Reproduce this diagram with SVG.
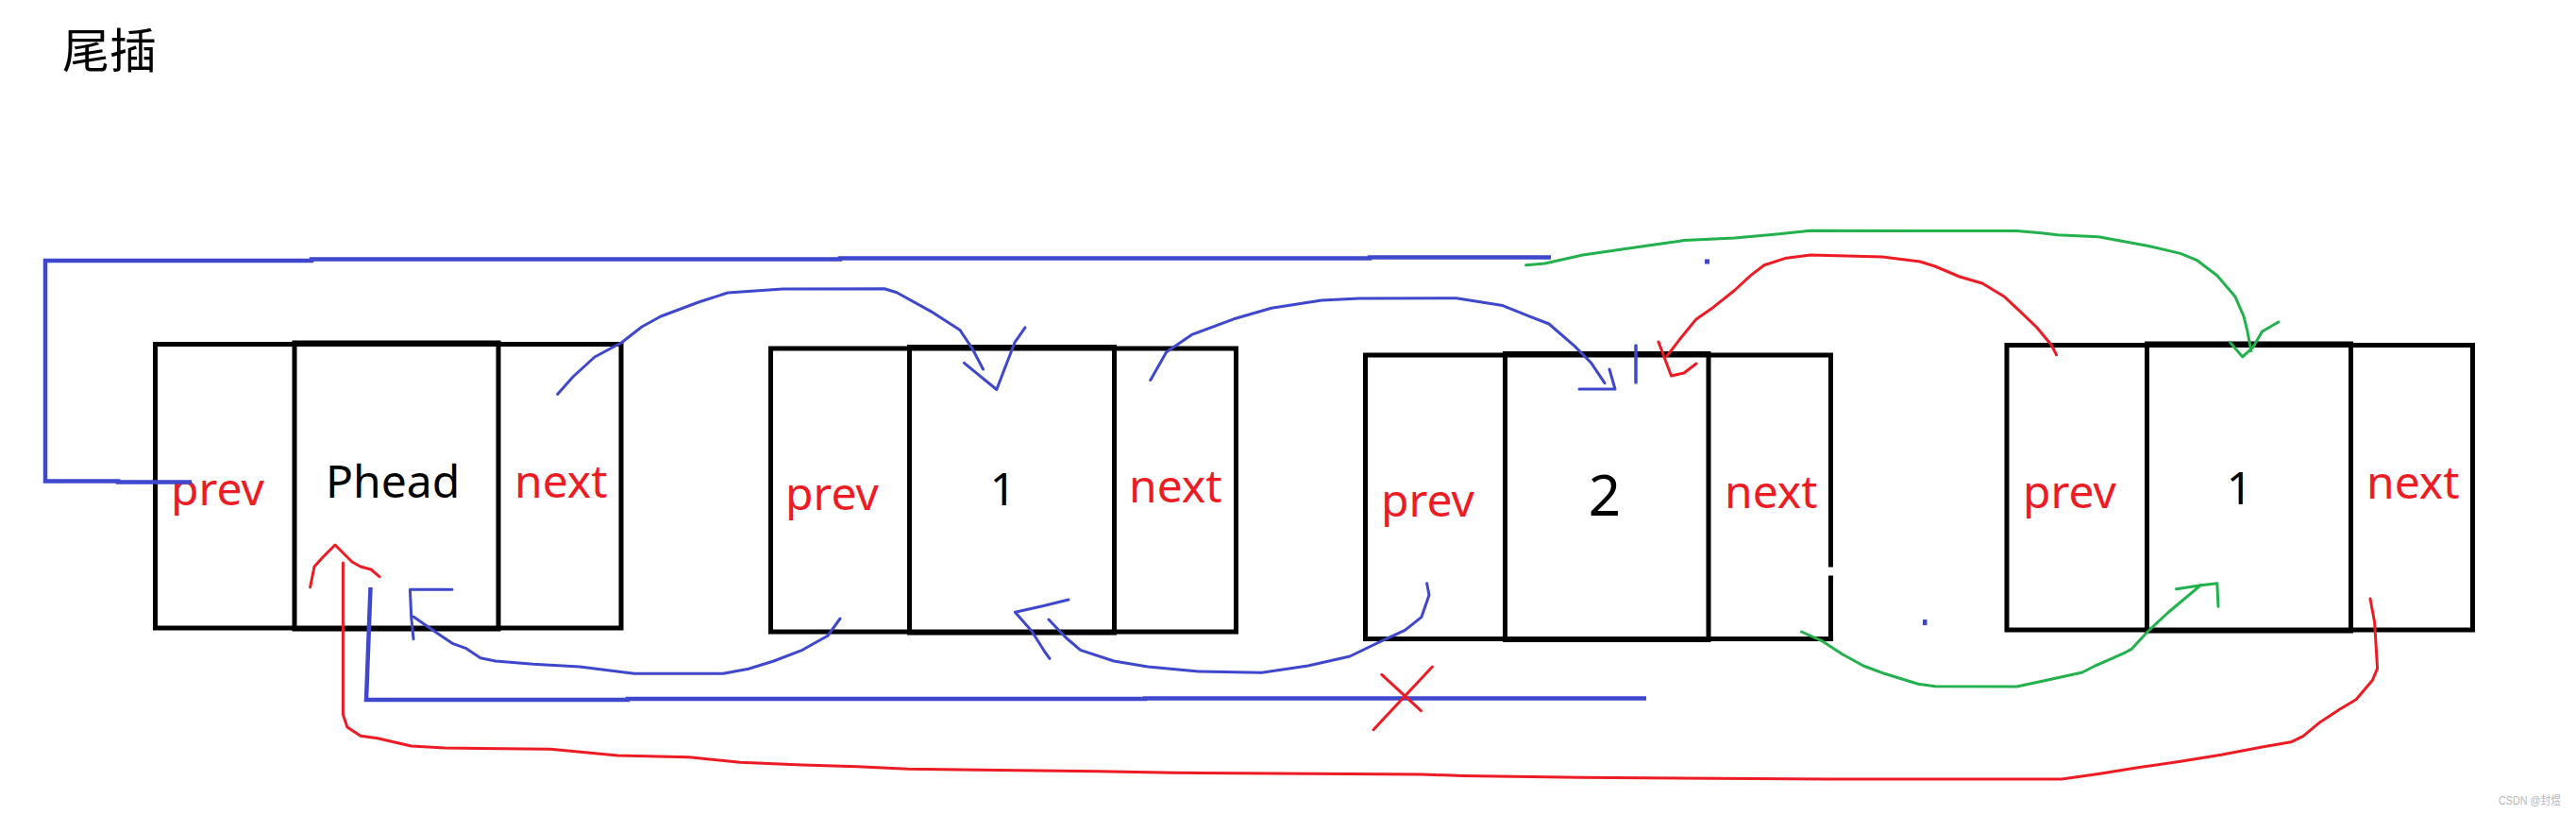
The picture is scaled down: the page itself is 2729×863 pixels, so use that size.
<svg xmlns="http://www.w3.org/2000/svg" width="2729" height="863" viewBox="0 0 2729 863">
<style>
.box{fill:none;stroke:#000;stroke-width:5;stroke-linejoin:miter}
.lbl{font-family:"Noto Sans","Liberation Sans",sans-serif;font-size:48px;fill:#ed1c24}
.val{font-family:"Noto Sans","Liberation Sans",sans-serif;font-size:48px;fill:#000}
.thickb{fill:none;stroke:#3f48cc;stroke-width:4.5;stroke-linejoin:miter}
.b{fill:none;stroke:#3f48cc;stroke-width:3;stroke-linejoin:round;stroke-linecap:round}
.r{fill:none;stroke:#ed1c24;stroke-width:3;stroke-linejoin:round;stroke-linecap:round}
.g{fill:none;stroke:#22b14c;stroke-width:3;stroke-linejoin:round;stroke-linecap:round}
</style>
<rect x="0" y="0" width="2729" height="863" fill="#fff"/>
<g id="title">
<text x="66" y="71.5" style="font-family:'Noto Sans CJK SC','Noto Sans CJK JP',sans-serif;font-size:50px;fill:#000">尾插</text>
</g>
<g id="node-phead">
<rect class="box" x="164.5" y="364.5" width="493.5" height="300.5"/>
<rect class="box" x="312" y="363" width="216" height="303"/>
<text class="lbl" x="181" y="535">prev</text>
<text class="val" x="345" y="527">Phead</text>
<text class="lbl" x="545" y="527">next</text>
</g>
<g id="node-1">
<rect class="box" x="816.5" y="369" width="493" height="300"/>
<rect class="box" x="963.5" y="367.5" width="217" height="302.5"/>
<text class="lbl" x="832" y="540">prev</text>
<text class="val" x="1062.5" y="535" text-anchor="middle">1</text>
<text class="lbl" x="1196" y="532">next</text>
</g>
<g id="node-2">
<path class="box" d="M1939.5,600.5 V376 H1446.5 V676.5 H1939.5 V609.5"/>
<rect class="box" x="1594.5" y="374.5" width="215.5" height="303"/>
<text class="lbl" x="1463" y="547">prev</text>
<text class="val" x="1700" y="546" text-anchor="middle" style="font-size:60px">2</text>
<text class="lbl" x="1827" y="538">next</text>
</g>
<g id="node-3">
<rect class="box" x="2126" y="365.5" width="493.5" height="301.5"/>
<rect class="box" x="2274.5" y="364" width="216" height="304"/>
<text class="lbl" x="2143" y="538">prev</text>
<text class="val" x="2372.5" y="534" text-anchor="middle">1</text>
<text class="lbl" x="2507" y="528">next</text>
</g>
<g id="connectors">
<!-- thick blue: new tail loop and old bottom link -->
<path class="thickb" d="M203,510.5 H125 V509.5 H48 V276 H330 V274.5 H890 V273.5 H1451 V272.5 H1643"/>
<path class="thickb" d="M392.5,622 L388,741 H665 V740 H1213 V739.5 H1744"/>
<!-- blue: Phead.next -> node1 -->
<path class="b" d="M590.6,417.4 L607,399 L630,378 L658.5,362.7 L680,346 L700,335 L740,320 L771,310 L829,306 L937,305.7 L950,309.7 L986,329.6 L1017,349.5 L1030,369 L1041.5,391"/>
<path class="b" d="M1021.4,384.3 L1055.8,412.5 L1066,386 L1075,362.7 L1086,346.8"/>
<!-- blue: node1.next -> node2 -->
<path class="b" d="M1218.8,402.5 L1235.7,372.7 L1262.5,354.4 L1307,337.8 L1347,326.2 L1400,318 L1440,316 L1542.9,315.7 L1592,323.6 L1618.8,334.3 L1641,343 L1668,366.4 L1685.7,384.3 L1700,405.7"/>
<path class="b" d="M1673,412 H1711 L1705,391"/>
<path class="b" style="stroke-width:3.5" d="M1733,366 V405"/>
<!-- blue: node1.prev -> Phead -->
<path class="b" d="M890,655 L876.8,673.3 L850,688.3 L819.6,700 L793,708.3 L766,713.3 L672,713.3 L614,706 L565,703.3 L525,700 L509,696.7 L494,686.7 L480,681.7 L462.5,670 L438,653"/>
<path class="b" d="M479,624.3 H434.4 L435.7,653.3 L438,676.7"/>
<!-- blue: node2.prev -> node1 -->
<path class="b" d="M1511.6,617.7 L1514,630 L1506,653.3 L1488.4,667.3 L1466,677.7 L1430,695 L1385.7,705 L1336.6,712.3 L1269.6,711 L1216,706 L1180,700 L1144.6,688.3 L1129,675 L1111,656"/>
<path class="b" d="M1132,635 L1104.5,641.7 L1075.4,648.3 L1093,668.3 L1106.7,690 L1112,697.3"/>
<!-- red: node3.next -> Phead -->
<path class="r" d="M2511,634 L2515.6,658.7 L2518.6,707.9 L2513.4,720.2 L2496,740.7 L2478.8,751 L2457,765.3 L2439.8,779.6 L2426.8,785.8 L2396.5,791.1 L2353,799.3 L2309.8,806.3 L2266.5,812.5 L2223,819.4 L2184,825 L1938,825 L1675,823.3 L1550,821.5 L1506,820 L1243,818.3 L1162.5,816.7 L961.6,814.3 L908,811.7 L850,810 L784,807.3 L730,801.7 L654.5,800 L583,793.3 L471.4,792 L435.7,790 L400,781.7 L382,779.3 L367.9,770 L363.4,756.7 L363.4,596"/>
<path class="r" d="M328.6,621.7 L333,600 L342,590 L355,577 L373,595 L382,600 L393,603 L402,610.7"/>
<!-- red: node3.prev -> node2 -->
<path class="r" d="M2178.6,375.8 L2173.4,365.5 L2158,347 L2141,330.7 L2123.6,314.3 L2100,300 L2076,293 L2050,282 L2034,277 L1994,272 L1918,270 L1891,273.6 L1869,280.7 L1855,291.4 L1837.5,307.5 L1815,325.4 L1797,337.9 L1779.5,359.3 L1766,377"/>
<path class="r" d="M1757,362 L1770.5,398 L1784,395 L1797,385"/>
<!-- red X on old link -->
<path class="r" d="M1463.8,714.3 L1505.4,752.7 M1517.4,706 L1455,772.7"/>
<!-- green: node2.next -> node3 (top) -->
<path class="g" d="M1616.5,280.7 L1636.6,279 L1676.8,270 L1739,261 L1784,254.6 L1837.5,252 L1882,247.9 L1918,244.3 L2050,244.5 L2136.6,244.6 L2162.6,246.7 L2180,248.7 L2223,250.8 L2275,260.2 L2309.8,268.4 L2327,275.3 L2348.8,291.8 L2368,314.3 L2377,334.8 L2381,351.2 L2384.8,371.7"/>
<path class="g" d="M2362.7,362.7 L2375.7,377.9 L2387,367.6 L2396.5,351 L2413.8,341"/>
<!-- green: node2.next -> node3 (bottom) -->
<path class="g" d="M1908.5,669 L1929.5,678.3 L1951.8,692.7 L1974,705 L1996.4,713.3 L2032,724.3 L2050,726.7 L2136.6,727 L2166,720.7 L2206,712 L2219.6,705 L2232,699.7 L2250,691.7 L2258,687.4 L2275,669 L2297,648.5 L2331.5,619.7"/>
<path class="g" d="M2305.5,623.8 L2331.5,619.7 L2348.8,617.7 L2350,642.3"/>
<!-- stray dots -->
<rect x="1806" y="274.5" width="5" height="5" fill="#3f48cc"/>
<rect x="2037" y="656" width="4.5" height="6" fill="#3f48cc"/>
</g>
<text x="2647" y="852" textLength="66" lengthAdjust="spacingAndGlyphs" style="font-family:'Liberation Sans','Noto Sans CJK SC',sans-serif;font-size:12px;fill:#b8b8b8">CSDN @封煜</text>
</svg>
